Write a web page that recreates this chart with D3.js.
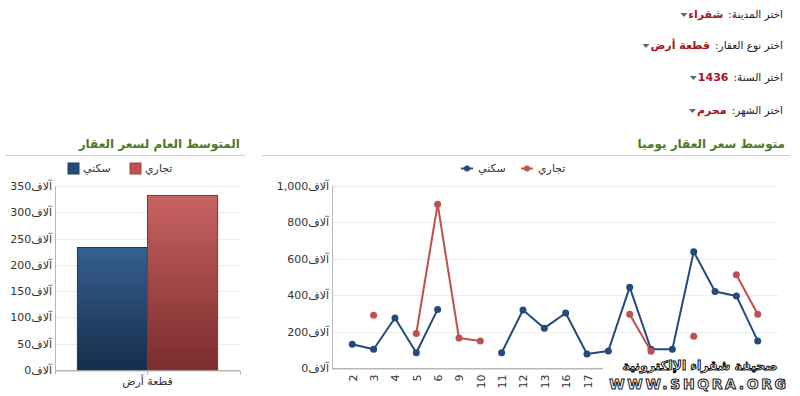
<!DOCTYPE html>
<html><head><meta charset="utf-8">
<script src="https://cdn.jsdelivr.net/npm/d3@7"></script>
<style>
html,body{margin:0;padding:0;background:#fff;}
svg{display:block;font-family:"DejaVu Sans",sans-serif;}
</style></head>
<body>
<svg id="c" width="800" height="396"></svg>
<script>
// ---------- data ----------
const selectorLabels = ["اختر المدينة:", "اختر نوع العقار:", "اختر السنة:", "اختر الشهر:"];
const selectorValues = ["شقراء", "قطعة أرض", "1436", "محرم"];

const seriesNames = ["سكني", "تجاري"];
const seriesColors = ["#234b7c", "#c0504d"];

// Left chart (average price, thousands)
const barCategories = ["قطعة أرض"];
const barResidential = [233];
const barCommercial = [332];
const barTicks = [0, 50, 100, 150, 200, 250, 300, 350];

// Right chart (daily average price, thousands)
const days = ["2","3","4","5","6","9","10","11","12","13","16","17","18","19","20","23","24","25","26","27"];
const dailyResidential = [130,103,275,84,322,null,null,84,319,219,302,77,94,444,103,103,639,420,396,149];
const dailyCommercial  = [null,290,null,190,900,165,148,null,null,null,null,null,null,295,92,null,175,null,512,295];
const lineTicks = [0, 200, 400, 600, 800, 1000];

const unit = "آلاف";

// ---------- drawing ----------
const svg = d3.select("#c");
svg.append("rect").attr("width",800).attr("height",396).attr("fill","#fff");
const defs = svg.append("defs");
function grad(id, top, bottom){
  const g = defs.append("linearGradient").attr("id",id).attr("x1",0).attr("y1",0).attr("x2",0).attr("y2",1);
  g.append("stop").attr("offset","0%").attr("stop-color",top);
  g.append("stop").attr("offset","100%").attr("stop-color",bottom);
}
grad("gBlue","#36608f","#162d4c");
grad("gRed","#c86262","#7b2c2c");

// RTL text helper: anchored at its right edge x
function rtlText(x, y){
  return svg.append("text").attr("x",x).attr("y",y).attr("direction","rtl").attr("text-anchor","start");
}

// selectors
const selY = [14, 45, 77, 110];
selectorLabels.forEach((lab,i)=>{
  const t = rtlText(783, selY[i]+4).attr("font-size",10.5).attr("fill","#222").text(lab);
  const w = t.node().getComputedTextLength();
  const vx = 783 - w - 5;
  const v = rtlText(vx, selY[i]+4).attr("font-size",11).attr("font-weight","bold").attr("fill","#a3161d").text(selectorValues[i]);
  const vw = v.node().getComputedTextLength();
  const ax = vx - vw - 1;
  svg.append("path").attr("d",`M${ax-7},${selY[i]-1} L${ax},${selY[i]-1} L${ax-3.5},${selY[i]+3} Z`).attr("fill","#666");
});

// titles
const titleColor = "#4e7a27";
rtlText(240,148).attr("font-size",12).attr("font-weight","bold").attr("fill",titleColor).text("المتوسط العام لسعر العقار");
rtlText(785,148).attr("font-size",12).attr("font-weight","bold").attr("fill",titleColor).text("متوسط سعر العقار يوميا");
svg.append("line").attr("x1",5).attr("x2",245).attr("y1",155.5).attr("y2",155.5).attr("stroke","#cfcfcf");
svg.append("line").attr("x1",262).attr("x2",790).attr("y1",155.5).attr("y2",155.5).attr("stroke","#cfcfcf");

// ---- left legend
function squareLegend(x, color, label){
  svg.append("rect").attr("x",x).attr("y",163).attr("width",11).attr("height",11)
    .attr("fill",color).attr("stroke",d3.color(color).darker(0.6));
  svg.append("text").attr("x",x+15).attr("y",172).attr("font-size",11).attr("fill","#333")
    .attr("text-anchor","start").text(label);
}
squareLegend(68, "#234b7c", seriesNames[0]);
squareLegend(130, "#c0504d", seriesNames[1]);

// ---- left chart
const L = {l:55, r:240, t:186, b:370};
const yB = d3.scaleLinear().domain([0,350]).range([L.b, L.t]);
const xB = d3.scaleBand().domain(barCategories).range([L.l, L.r]).paddingOuter(0.16).paddingInner(0);
const xS = d3.scaleBand().domain(seriesNames).range([0, xB.bandwidth()]);
const gl = svg.append("g");
gl.selectAll("line.grid").data(barTicks).join("line")
  .attr("x1",L.l).attr("x2",L.r).attr("y1",d=>Math.round(yB(d))+0.5).attr("y2",d=>Math.round(yB(d))+0.5)
  .attr("stroke",d=>d===0?"#b8b8b8":"#ececec");
gl.selectAll("text.yl").data(barTicks).join("text")
  .attr("x",L.l-3).attr("y",d=>yB(d)+4).attr("text-anchor","end").attr("direction","ltr")
  .attr("font-size",11).attr("fill","#333").text(d=>d3.format(",")(d)+unit);
gl.append("line").attr("x1",L.l+0.5).attr("x2",L.l+0.5).attr("y1",L.t).attr("y2",L.b).attr("stroke","#b8b8b8");
const barData = barCategories.flatMap((c,i)=>[
  {c, s:seriesNames[0], v:barResidential[i], f:"url(#gBlue)", st:"#1d3a5e"},
  {c, s:seriesNames[1], v:barCommercial[i], f:"url(#gRed)", st:"#8a3333"}]);
gl.selectAll("rect.bar").data(barData).join("rect")
  .attr("x",d=>xB(d.c)+xS(d.s)).attr("width",xS.bandwidth())
  .attr("y",d=>yB(d.v)).attr("height",d=>yB(0)-yB(d.v))
  .attr("fill",d=>d.f).attr("stroke",d=>d.st).attr("stroke-width",1);
const xAxisL = d3.axisBottom(xB).tickSize(4).tickPadding(3);
const gax = gl.append("g").attr("transform",`translate(0,${L.b+0.5})`).call(xAxisL);
gax.select(".domain").attr("stroke","#b8b8b8");
gax.selectAll(".tick line").attr("stroke","#b8b8b8");
gax.selectAll("text").attr("font-size",11).attr("fill","#333").attr("font-family","DejaVu Sans").attr("direction","rtl");

// ---- right legend
function lineLegend(x, color, label){
  svg.append("line").attr("x1",x).attr("x2",x+12).attr("y1",168.5).attr("y2",168.5).attr("stroke",color).attr("stroke-width",2);
  svg.append("circle").attr("cx",x+6).attr("cy",168.5).attr("r",3).attr("fill",color);
  svg.append("text").attr("x",x+17).attr("y",172).attr("font-size",11).attr("fill","#333").text(label);
}
lineLegend(461, "#234b7c", seriesNames[0]);
lineLegend(521, "#c0504d", seriesNames[1]);

// ---- right chart
const R = {l:332, r:778, t:186, b:368};
const yL = d3.scaleLinear().domain([0,1000]).range([R.b, R.t]);
const xL = d3.scalePoint().domain(days).range([R.l, R.r]).padding(0.95);
const gr = svg.append("g");
gr.selectAll("line.grid").data(lineTicks).join("line")
  .attr("x1",R.l).attr("x2",R.r).attr("y1",d=>Math.round(yL(d))+0.5).attr("y2",d=>Math.round(yL(d))+0.5)
  .attr("stroke",d=>d===0?"#b8b8b8":"#ececec");
gr.selectAll("text.yl").data(lineTicks).join("text")
  .attr("x",R.l-3).attr("y",d=>yL(d)+4).attr("text-anchor","end").attr("direction","ltr")
  .attr("font-size",11).attr("fill","#333").text(d=>d3.format(",")(d)+unit);
gr.append("line").attr("x1",R.l+0.5).attr("x2",R.l+0.5).attr("y1",R.t).attr("y2",R.b).attr("stroke","#b8b8b8");
const xAxisR = d3.axisBottom(xL).tickSize(0).tickPadding(0);
const gxr = gr.append("g").attr("transform",`translate(0,${R.b+0.5})`).call(xAxisR);
gxr.select(".domain").attr("stroke","#b8b8b8");
gxr.selectAll("text").attr("font-size",11).attr("fill","#333").attr("font-family","DejaVu Sans")
  .attr("text-anchor","end").attr("dy",null).attr("y",0)
  .attr("transform","translate(4,6) rotate(-90)");

[dailyResidential, dailyCommercial].forEach((vals,si)=>{
  const pts = days.map((d,i)=>({d, v:vals[i]}));
  const line = d3.line().defined(p=>p.v!=null).x(p=>xL(p.d)).y(p=>yL(p.v));
  gr.append("path").datum(pts).attr("d",line).attr("fill","none")
    .attr("stroke",seriesColors[si]).attr("stroke-width",2).attr("stroke-linejoin","round");
  gr.selectAll(null).data(pts.filter(p=>p.v!=null)).join("circle")
    .attr("cx",p=>xL(p.d)).attr("cy",p=>yL(p.v)).attr("r",3.5).attr("fill",seriesColors[si]);
});

// ---- watermark
svg.append("rect").attr("x",603).attr("y",356).attr("width",197).attr("height",40).attr("fill","#fff");
svg.append("text").attr("x",700).attr("y",370).attr("text-anchor","middle").attr("direction","rtl")
  .attr("font-size",12.5).attr("font-weight","bold").attr("fill","#fff").attr("stroke","#111").attr("stroke-width",1)
  .text("صحيفة شقراء الإلكترونية");
svg.append("text").attr("x",699).attr("y",389).attr("text-anchor","middle")
  .attr("font-size",14).attr("font-weight","bold").attr("letter-spacing",2.6).attr("fill","#fff").attr("stroke","#111").attr("stroke-width",1)
  .text("WWW.SHQRA.ORG");
</script>
</body></html>
